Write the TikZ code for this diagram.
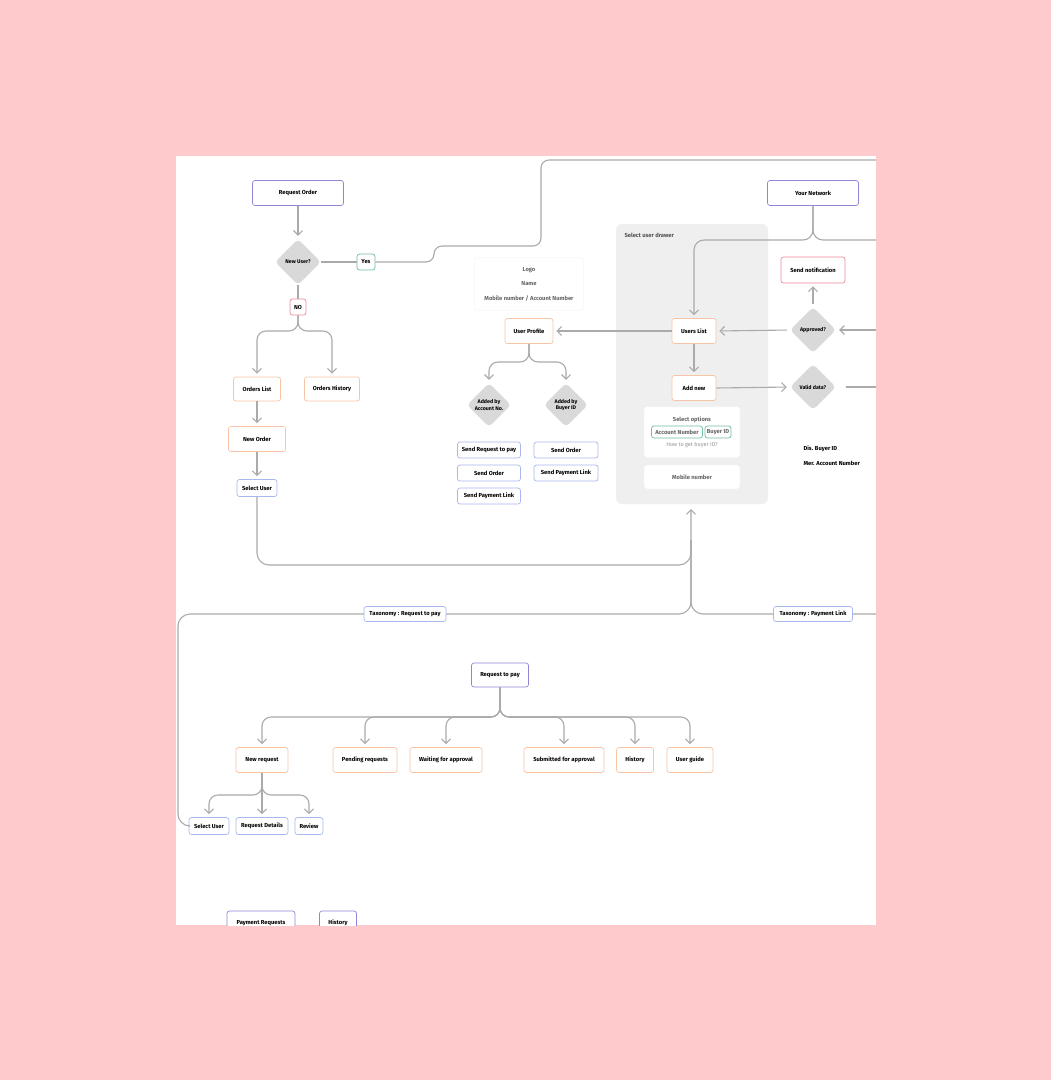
\documentclass[tikz,border=0pt]{standalone}
\usepackage{fontspec}
\setmainfont{Fira Sans}
\usetikzlibrary{shapes.geometric,arrows.meta}
\definecolor{bgpink}{HTML}{FFCACB}
\definecolor{cpur}{HTML}{8F86D9}
\definecolor{cora}{HTML}{F9C4A6}
\definecolor{cblu}{HTML}{A8B8F0}
\definecolor{cgrn}{HTML}{6FBFA0}
\definecolor{cred}{HTML}{F08A9A}
\definecolor{cline}{HTML}{AAAAAA}
\definecolor{cdia}{HTML}{D9D9D9}
\definecolor{cdraw}{HTML}{EFEFEF}
\definecolor{ctxt}{HTML}{666666}
\begin{document}
\begin{tikzpicture}[x=1pt,y=-1pt,
 box/.style={draw,rounded corners=2.5pt,fill=white,line width=0.7pt,inner sep=0pt,
   font=\fontsize{5.8}{6.5}\selectfont\bfseries,align=center},
 pur/.style={box,draw=cpur},
 ora/.style={box,draw=cora},
 blu/.style={box,draw=cblu},
 grn/.style={box,draw=cgrn},
 red/.style={box,draw=cred},
 dia/.style={diamond,fill=cdia,rounded corners=4pt,minimum size=#1,inner sep=0pt,
   font=\fontsize{5.3}{6.5}\selectfont\bfseries,align=center},
 line/.style={draw=cline,line width=1.1pt},
 arr/.style={line,-{Straight Barb[length=4.5pt,width=9pt]},shorten >=3pt},
 gtxt/.style={font=\fontsize{5.8}{6.5}\selectfont\bfseries,text=ctxt},
 btxt/.style={font=\fontsize{5.8}{6.5}\selectfont\bfseries}]
\path[use as bounding box,fill=bgpink] (0,0) rectangle (1051,1080);
\begin{scope}
\clip (176,156) rectangle (876,925);
\fill[white] (176,156) rectangle (876,925);

\node[fill=cdraw,rounded corners=6pt,minimum width=152pt,minimum height=280pt,inner sep=0pt] (dr) at (692,364) {};
\node[gtxt,anchor=west,text=ctxt!80!black] (drl) at (621,235) {Select user drawer};

\node[pur,minimum width=91pt,minimum height=25pt] (ro) at (298,193) {Request Order};
\node[dia=46pt] (nu) at (298,262) {New User?};
\node[grn,minimum width=18pt,minimum height=16pt] (yes) at (366,262) {Yes};
\node[red,minimum width=16pt,minimum height=16pt] (no) at (298,307) {NO};
\node[ora,minimum width=47pt,minimum height=24pt] (ol) at (257,389) {Orders List};
\node[ora,minimum width=55pt,minimum height=24pt] (oh) at (332,389) {Orders History};
\node[ora,minimum width=57pt,minimum height=25pt] (no2) at (257,439) {New Order};
\node[blu,minimum width=40pt,minimum height=17pt] (su) at (257,488) {Select User};

\node[draw=cdraw,rounded corners=3pt,fill=white,minimum width=109pt,minimum height=53pt] (lg) at (529,284) {};
\node[gtxt] (lgl) at (529,270) {Logo};
\node[gtxt] (lgn) at (529,284) {Name};
\node[gtxt] (lgm) at (529,298) {Mobile number / Account Number};
\node[ora,minimum width=48pt,minimum height=25pt] (up) at (529,331) {User Profile};
\node[dia=44pt] (aa) at (489,405) {Added by\\Account No.};
\node[dia=44pt] (ab) at (566,405) {Added by\\Buyer ID};
\node[blu,minimum width=63pt,minimum height=16pt] (b1) at (489,450) {Send Request to pay};
\node[blu,minimum width=63pt,minimum height=16pt] (b2) at (489,473) {Send Order};
\node[blu,minimum width=63pt,minimum height=16pt] (b3) at (489,496) {Send Payment Link};
\node[blu,minimum width=64pt,minimum height=16pt] (b4) at (566,450) {Send Order};
\node[blu,minimum width=64pt,minimum height=16pt] (b5) at (566,473) {Send Payment Link};

\node[pur,minimum width=91pt,minimum height=25pt] (yn) at (813,193) {Your Network};
\node[red,minimum width=64pt,minimum height=26pt] (sn) at (813,270) {Send notification};
\node[dia=46pt] (ap) at (813,330) {Approved?};
\node[dia=46pt] (vd) at (813,387) {Valid data?};
\node[ora,minimum width=44pt,minimum height=25pt] (ul) at (694,331) {Users List};
\node[ora,minimum width=44pt,minimum height=25pt] (an) at (694,388) {Add new};
\node[draw=cdraw,rounded corners=3pt,fill=white,minimum width=96pt,minimum height=51pt] (so) at (692,432) {};
\node[gtxt] (sol) at (692,420) {Select options};
\node[box,draw=cgrn,text=ctxt,minimum width=51pt,minimum height=12pt] (cn) at (677,432) {Account Number};
\node[box,draw=cgrn,text=ctxt,minimum width=26pt,minimum height=12pt] (cb) at (718,432) {Buyer ID};
\node[font=\fontsize{5.5}{6}\selectfont,text=ctxt!70] (hw) at (692,445) {How to get buyer ID?};
\node[draw=cdraw,rounded corners=3pt,fill=white,minimum width=96pt,minimum height=24pt,gtxt] (mn) at (692,477) {Mobile number};
\node[btxt,anchor=west] (d1) at (800,449) {Dis. Buyer ID};
\node[btxt,anchor=west] (d2) at (800,463) {Mer. Account Number};

\node[pur,minimum width=57pt,minimum height=24pt] (rtp) at (500,675) {Request to pay};
\node[ora,minimum width=52pt,minimum height=25pt] (nr) at (262,760) {New request};
\node[ora,minimum width=64pt,minimum height=25pt] (pr) at (365,760) {Pending requests};
\node[ora,minimum width=72pt,minimum height=25pt] (wa) at (446,760) {Waiting for approval};
\node[ora,minimum width=80pt,minimum height=25pt] (sa) at (564,760) {Submitted for approval};
\node[ora,minimum width=37pt,minimum height=25pt] (hi) at (635,760) {History};
\node[ora,minimum width=46pt,minimum height=25pt] (ug) at (690,760) {User guide};
\node[blu,minimum width=40pt,minimum height=17pt] (su2) at (209,826) {Select User};
\node[blu,minimum width=52pt,minimum height=17pt] (rd) at (262,826) {Request Details};
\node[blu,minimum width=28pt,minimum height=17pt] (rv) at (309,826) {Review};
\node[pur,minimum width=68pt,minimum height=24pt] (pq) at (261,923) {Payment Requests};
\node[pur,minimum width=37pt,minimum height=24pt] (h2) at (338,923) {History};

\draw[arr] (ro.south) -- (nu.north);
\draw[line] (nu.east) -- (yes.west);
\draw[line,rounded corners=8pt] (yes.east) -- (434,262) -- (434,246) -- (541,246) -- (541,160) -- (880,160);
\draw[line] (nu.south) -- (no.north);
\draw[arr,rounded corners=9pt] (no.south) -- (298,331) -| (ol.north);
\draw[arr,rounded corners=9pt] (no.south) -- (298,331) -| (oh.north);
\draw[arr] (ol.south) -- (no2.north);
\draw[arr] (no2.south) -- (su.north);
\draw[arr,rounded corners=12pt] (su.south) |- (691,565) -- (691,506);
\draw[line,rounded corners=12pt] (691,540) |- (178,614) -- (178,826) -- (su2.west);
\draw[line,rounded corners=12pt] (691,540) |- (880,614);
\node[blu,minimum width=82pt,minimum height=15pt] (t1) at (405,614) {Taxonomy : Request to pay};
\node[blu,minimum width=79pt,minimum height=15pt] (t2) at (813,614) {Taxonomy : Payment Link};

\draw[arr,rounded corners=10pt] (yn.south) -- (813,240) -| (ul.north);
\draw[line,rounded corners=10pt] (yn.south) -- (813,240) -- (880,240);
\draw[arr] (880,330) -- (ap.east);
\draw[arr,shorten <=3pt] (ap.west) -- (ul.east);
\draw[arr,shorten <=3pt] (ap.north) -- (sn.south);
\draw[arr] (ul.west) -- (up.east);
\draw[arr] (ul.south) -- (an.north);
\draw[arr] (an.east) -- (vd.west);
\draw[line,shorten <=10pt] (vd.east) -- (880,387);
\draw[arr,rounded corners=9pt] (up.south) -- (529,362) -| (aa.north);
\draw[arr,rounded corners=9pt] (up.south) -- (529,362) -| (ab.north);

\foreach \c in {nr,pr,wa,sa,hi,ug}
  \draw[arr,rounded corners=9pt] (rtp.south) -- (500,717) -| (\c.north);
\foreach \c in {su2,rd,rv}
  \draw[arr,rounded corners=9pt] (nr.south) -- (262,795) -| (\c.north);
\end{scope}
\end{tikzpicture}
\end{document}
